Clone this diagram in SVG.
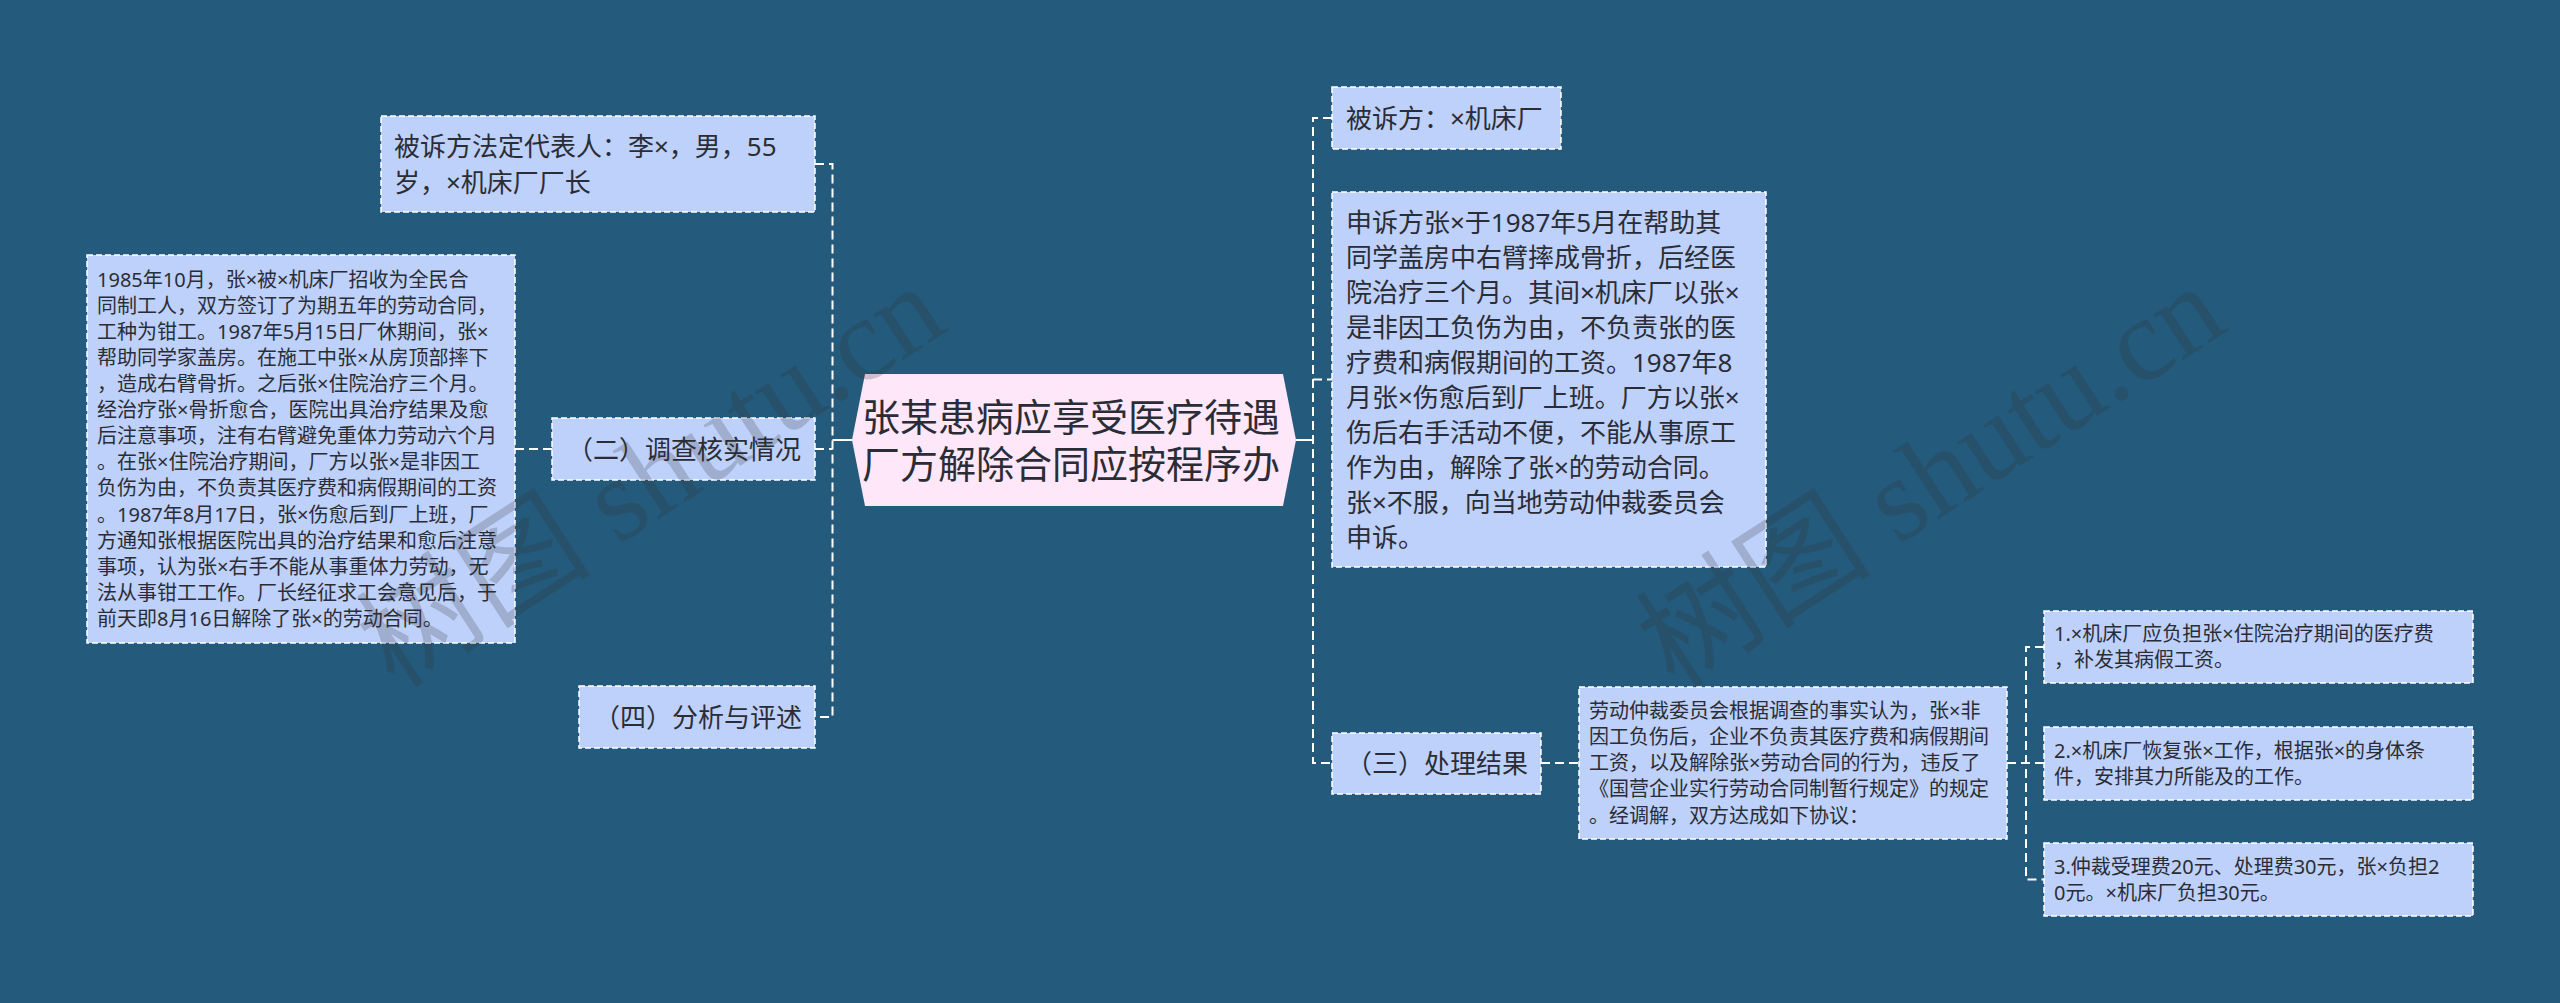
<svg xmlns="http://www.w3.org/2000/svg" width="2560" height="1003" viewBox="0 0 2560 1003">
<style>
.bg{fill:#245a7b}
.box{fill:#bed1fa;stroke:#ffffff;stroke-width:1.5;stroke-dasharray:6 3}
.hex{fill:#fde7f9}
.t{font-family:"Noto Sans","Noto Sans CJK SC",sans-serif;fill:#2b2d36}
.f26{font-size:26px}
.f20{font-size:20px}
.f38{font-size:38px}
.dash{fill:none;stroke:#ffffff;stroke-width:2;stroke-dasharray:9 5}
.solid{fill:none;stroke:#ffffff;stroke-width:2}
.wm{font-family:"Liberation Serif","Noto Sans CJK SC",serif;font-size:118px;fill:#333333;fill-opacity:0.22}
</style>
<rect class="bg" x="0" y="0" width="2560" height="1003"/>

<g id="connectors">
  <path class="dash" d="M815 164 H832.5 V717 H815"/>
  <path class="dash" d="M815 449 H832.5"/>
  <path class="dash" d="M515 449 H552"/>
  <path class="solid" d="M832.5 440 H852"/>
  <path class="solid" d="M1296 440 H1313"/>
  <path class="dash" d="M1332 118 H1313 V763 H1332"/>
  <path class="dash" d="M1313 379.5 H1332"/>
  <path class="dash" d="M1541 763 H1579"/>
  <path class="dash" d="M2007 763 H2044"/>
  <path class="dash" d="M2044 647 H2026 V879.5 H2044"/>
</g>

<g id="center">
  <polygon class="hex" points="865,374 1283,374 1296,440 1283,506 865,506 852,440"/>
  <text class="t f38" text-anchor="middle" fill="#222"><tspan x="1071" y="431">张某患病应享受医疗待遇</tspan><tspan x="1071" y="478">厂方解除合同应按程序办</tspan></text>
</g>

<g id="node-a">
  <rect class="box" x="381" y="116" width="434" height="96"/>
  <text class="t f26"><tspan x="394" y="155.5">被诉方法定代表人：李×，男，55</tspan><tspan x="394" y="191.5">岁，×机床厂厂长</tspan></text>
</g>

<g id="node-b">
  <rect class="box" x="87" y="255" width="428" height="388"/>
  <text class="t f20">
    <tspan x="97" y="286.6">1985年10月，张×被×机床厂招收为全民合</tspan>
    <tspan x="97" dy="26.1">同制工人，双方签订了为期五年的劳动合同，</tspan>
    <tspan x="97" dy="26.1">工种为钳工。1987年5月15日厂休期间，张×</tspan>
    <tspan x="97" dy="26.1">帮助同学家盖房。在施工中张×从房顶部摔下</tspan>
    <tspan x="97" dy="26.1">，造成右臂骨折。之后张×住院治疗三个月。</tspan>
    <tspan x="97" dy="26.1">经治疗张×骨折愈合，医院出具治疗结果及愈</tspan>
    <tspan x="97" dy="26.1">后注意事项，注有右臂避免重体力劳动六个月</tspan>
    <tspan x="97" dy="26.1">。在张×住院治疗期间，厂方以张×是非因工</tspan>
    <tspan x="97" dy="26.1">负伤为由，不负责其医疗费和病假期间的工资</tspan>
    <tspan x="97" dy="26.1">。1987年8月17日，张×伤愈后到厂上班，厂</tspan>
    <tspan x="97" dy="26.1">方通知张根据医院出具的治疗结果和愈后注意</tspan>
    <tspan x="97" dy="26.1">事项，认为张×右手不能从事重体力劳动，无</tspan>
    <tspan x="97" dy="26.1">法从事钳工工作。厂长经征求工会意见后，于</tspan>
    <tspan x="97" dy="26.1">前天即8月16日解除了张×的劳动合同。</tspan>
  </text>
</g>

<g id="node-c">
  <rect class="box" x="552" y="418" width="263" height="62"/>
  <text class="t f26" x="567" y="458.5">（二）调查核实情况</text>
</g>

<g id="node-d">
  <rect class="box" x="579" y="686" width="236" height="62"/>
  <text class="t f26" x="594" y="726.5">（四）分析与评述</text>
</g>

<g id="node-e">
  <rect class="box" x="1332" y="87" width="229" height="62"/>
  <text class="t f26" x="1346" y="127.5">被诉方：×机床厂</text>
</g>

<g id="node-f">
  <rect class="box" x="1332" y="192" width="434" height="375"/>
  <text class="t f26">
    <tspan x="1346" y="231.5">申诉方张×于1987年5月在帮助其</tspan>
    <tspan x="1346" dy="35">同学盖房中右臂摔成骨折，后经医</tspan>
    <tspan x="1346" dy="35">院治疗三个月。其间×机床厂以张×</tspan>
    <tspan x="1346" dy="35">是非因工负伤为由，不负责张的医</tspan>
    <tspan x="1346" dy="35">疗费和病假期间的工资。1987年8</tspan>
    <tspan x="1346" dy="35">月张×伤愈后到厂上班。厂方以张×</tspan>
    <tspan x="1346" dy="35">伤后右手活动不便，不能从事原工</tspan>
    <tspan x="1346" dy="35">作为由，解除了张×的劳动合同。</tspan>
    <tspan x="1346" dy="35">张×不服，向当地劳动仲裁委员会</tspan>
    <tspan x="1346" dy="35">申诉。</tspan>
  </text>
</g>

<g id="node-g">
  <rect class="box" x="1332" y="733" width="209" height="61"/>
  <text class="t f26" x="1346" y="772.5">（三）处理结果</text>
</g>

<g id="node-h">
  <rect class="box" x="1579" y="687" width="428" height="152"/>
  <text class="t f20">
    <tspan x="1589" y="718.1">劳动仲裁委员会根据调查的事实认为，张×非</tspan>
    <tspan x="1589" dy="26.1">因工负伤后，企业不负责其医疗费和病假期间</tspan>
    <tspan x="1589" dy="26.1">工资，以及解除张×劳动合同的行为，违反了</tspan>
    <tspan x="1589" dy="26.1">《国营企业实行劳动合同制暂行规定》的规定</tspan>
    <tspan x="1589" dy="26.1">。经调解，双方达成如下协议：</tspan>
  </text>
</g>

<g id="node-i1">
  <rect class="box" x="2044" y="611" width="429" height="72"/>
  <text class="t f20"><tspan x="2054" y="641.3">1.×机床厂应负担张×住院治疗期间的医疗费</tspan><tspan x="2054" dy="26.1">，补发其病假工资。</tspan></text>
</g>

<g id="node-i2">
  <rect class="box" x="2044" y="727" width="429" height="73"/>
  <text class="t f20"><tspan x="2054" y="757.6">2.×机床厂恢复张×工作，根据张×的身体条</tspan><tspan x="2054" dy="26.1">件，安排其力所能及的工作。</tspan></text>
</g>

<g id="node-i3">
  <rect class="box" x="2044" y="843" width="429" height="73"/>
  <text class="t f20"><tspan x="2054" y="873.7">3.仲裁受理费20元、处理费30元，张×负担2</tspan><tspan x="2054" dy="26.1">0元。×机床厂负担30元。</tspan></text>
</g>

<g id="watermark">
  <text class="wm" transform="translate(395 690) rotate(-33)">树图 shutu.cn</text>
  <text class="wm" transform="translate(1675 690) rotate(-33)">树图 shutu.cn</text>
</g>
</svg>
